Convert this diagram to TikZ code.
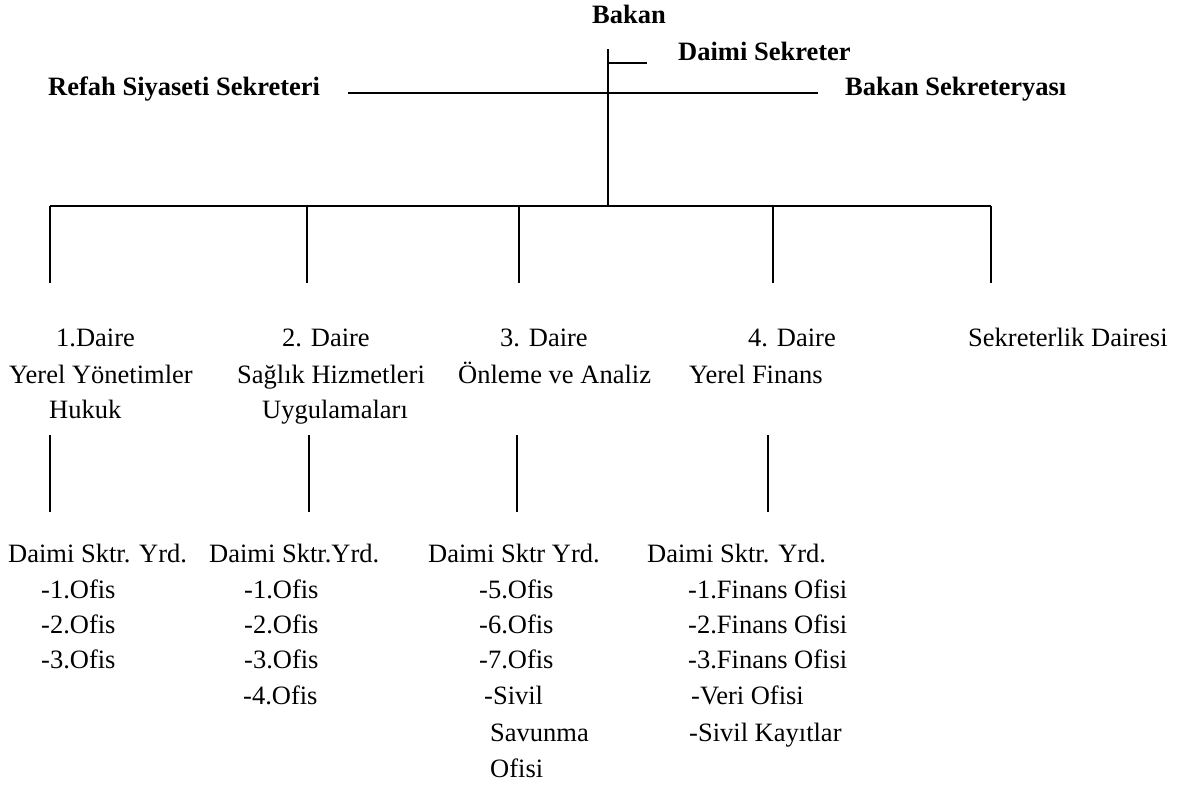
\documentclass[tikz,border=0pt]{standalone}
\usepackage{fontspec}
\setmainfont{Liberation Serif}
\begin{document}
\begin{tikzpicture}[x=1pt,y=-1pt,
  txt/.style={anchor=base west, inner sep=0pt, font=\fontsize{26.5}{30}\selectfont},
  bold/.style={anchor=base west, inner sep=0pt, font=\fontsize{26.5}{30}\selectfont\bfseries},
  ln/.style={line width=1.4pt, black}]
\useasboundingbox (0,0) rectangle (1177,785);

% top titles
\node[bold] (bakan) at (592,23) {Bakan};
\node[bold] (daimi) at (678,60) {Daimi Sekreter};
\node[bold] (refah) at (48,95) {Refah Siyaseti Sekreteri};
\node[bold] (bsek) at (845,95) {Bakan Sekreteryası};

% coordinates of lines
\coordinate (top) at (608,49);
\coordinate (tick) at (608,63);
\coordinate (tickend) at (647,63);
\coordinate (hl) at (348,93);
\coordinate (hr) at (818,93);
\coordinate (bus) at (608,206);
\coordinate (busl) at (50,206);
\coordinate (busr) at (991,206);
\coordinate (u1t) at (50,206);  \coordinate (u1b) at (50,283);
\coordinate (u2t) at (307,206); \coordinate (u2b) at (307,283);
\coordinate (u3t) at (519,206); \coordinate (u3b) at (519,283);
\coordinate (u4t) at (773,206); \coordinate (u4b) at (773,283);
\coordinate (u5t) at (991,206); \coordinate (u5b) at (991,283);
\coordinate (l1t) at (50,435);  \coordinate (l1b) at (50,512);
\coordinate (l2t) at (309,435); \coordinate (l2b) at (309,512);
\coordinate (l3t) at (517,435); \coordinate (l3b) at (517,512);
\coordinate (l4t) at (768,435); \coordinate (l4b) at (768,512);

\draw[ln] (top) -- (bus);
\draw[ln] (tick) -- (tickend);
\draw[ln] (hl) -- (hr);
\draw[ln] (busl) -- (busr);
\draw[ln] (u1t) -- (u1b);
\draw[ln] (u2t) -- (u2b);
\draw[ln] (u3t) -- (u3b);
\draw[ln] (u4t) -- (u4b);
\draw[ln] (u5t) -- (u5b);
\draw[ln] (l1t) -- (l1b);
\draw[ln] (l2t) -- (l2b);
\draw[ln] (l3t) -- (l3b);
\draw[ln] (l4t) -- (l4b);

% departments
\node[txt] (d1a) at (56,346) {1.Daire};
\node[txt] (d1b) at (9,383) {Yerel Yönetimler};
\node[txt] (d1c) at (49,418) {Hukuk};
\node[txt] (d2a) at (282,346) {2. Daire};
\node[txt] (d2b) at (237,383) {Sağlık Hizmetleri};
\node[txt] (d2c) at (262,418) {Uygulamaları};
\node[txt] (d3a) at (500,346) {3. Daire};
\node[txt] (d3b) at (458,383) {Önleme ve Analiz};
\node[txt] (d4a) at (748,346) {4. Daire};
\node[txt] (d4b) at (689,383) {Yerel Finans};
\node[txt] (d5a) at (968,346) {Sekreterlik Dairesi};

% lower column 1
\node[txt] (c1h) at (8,562) {Daimi Sktr. Yrd.};
\node[txt] (c1a) at (41,598) {-1.Ofis};
\node[txt] (c1b) at (41,633) {-2.Ofis};
\node[txt] (c1c) at (41,668) {-3.Ofis};
% column 2
\node[txt] (c2h) at (209,562) {Daimi Sktr.Yrd.};
\node[txt] (c2a) at (244,598) {-1.Ofis};
\node[txt] (c2b) at (244,633) {-2.Ofis};
\node[txt] (c2c) at (244,668) {-3.Ofis};
\node[txt] (c2d) at (243,704) {-4.Ofis};
% column 3
\node[txt] (c3h) at (428,562) {Daimi Sktr Yrd.};
\node[txt] (c3a) at (479,598) {-5.Ofis};
\node[txt] (c3b) at (479,633) {-6.Ofis};
\node[txt] (c3c) at (479,668) {-7.Ofis};
\node[txt] (c3d) at (484,704) {-Sivil};
\node[txt] (c3e) at (490,741) {Savunma};
\node[txt] (c3f) at (490,777) {Ofisi};
% column 4
\node[txt] (c4h) at (647,562) {Daimi Sktr. Yrd.};
\node[txt] (c4a) at (688,598) {-1.Finans Ofisi};
\node[txt] (c4b) at (688,633) {-2.Finans Ofisi};
\node[txt] (c4c) at (688,668) {-3.Finans Ofisi};
\node[txt] (c4d) at (691,704) {-Veri Ofisi};
\node[txt] (c4e) at (689,741) {-Sivil Kayıtlar};
\end{tikzpicture}
\end{document}
